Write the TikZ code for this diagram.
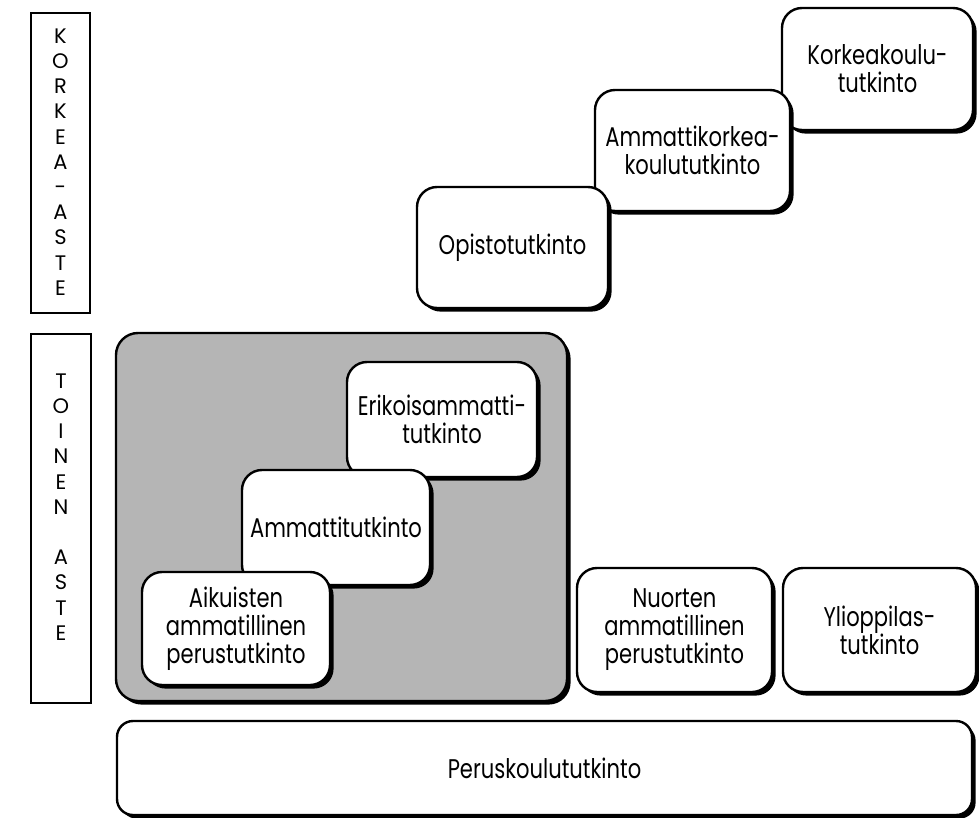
\documentclass[tikz,border=0pt]{standalone}
\usepackage{fontspec}
\setmainfont{Poppins}[FakeStretch=0.78]
\newfontfamily\kirjainfont{Poppins}
\usepackage{tikz}
\usetikzlibrary{shapes, shadows, positioning}
\tikzstyle{taso} = [draw, line width=1pt, rectangle, inner sep=0pt]
\tikzstyle{tasoteksti} = [align=center, font=\kirjainfont\fontsize{10.5}{12.6}\selectfont]
\tikzstyle{tutkinto} = [draw, line width=1.2pt, fill=white, rectangle, rounded corners=10pt, inner sep=0pt, align=center,
  font=\fontsize{13.5}{14}\selectfont, drop shadow={shadow xshift=1.8pt, shadow yshift=-1.8pt, fill=black, opacity=1}]
\tikzstyle{ryhma} = [tutkinto, fill=black!29, rounded corners=11pt]

\begin{document}
\begin{tikzpicture}[x=0.5pt, y=-0.5pt]
	\useasboundingbox (0,0) rectangle (979,818);
	% tasot
	\node [taso, minimum width=29.5pt, minimum height=150pt] (korkea) at (60.5,163) {};
	\node [tasoteksti] (korkeateksti) at (60.5,162) {K\\O\\R\\K\\E\\A\\-\\A\\S\\T\\E};
	\node [taso, minimum width=30pt, minimum height=184.5pt] (toinen) at (61,518.5) {};
	\node [tasoteksti] (toinenteksti) at (61,507) {T\\O\\I\\N\\E\\N\\\mbox{}\\A\\S\\T\\E};

	% aikuiskoulutus
	\node [ryhma, minimum width=225.5pt, minimum height=184pt] (aikuiset) at (341.5,517) {};
	\node [tutkinto, minimum width=95pt, minimum height=57.5pt] (erikois) at (442,419.5) {Erikoisammatti-\\tutkinto};
	\node [tutkinto, minimum width=94pt, minimum height=57.5pt] (ammatti) at (336,527.5) {Ammattitutkinto};
	\node [tutkinto, minimum width=94pt, minimum height=56.5pt] (aikuisperus) at (236,628.5) {Aikuisten\\ammatillinen\\perustutkinto};

	% nuoret
	\node [tutkinto, minimum width=97.5pt, minimum height=62pt] (nuoret) at (674.5,630) {Nuorten\\ammatillinen\\perustutkinto};
	\node [tutkinto, minimum width=96.5pt, minimum height=62pt] (yo) at (879.5,630) {Ylioppilas-\\tutkinto};
	\node [tutkinto, rounded corners=8pt, minimum width=427.5pt, minimum height=47pt] (perus) at (544.5,768) {Peruskoulututkinto};

	% korkea-aste
	\node [tutkinto, minimum width=95.5pt, minimum height=61pt] (korkeakoulu) at (877.5,69) {Korkeakoulu-\\tutkinto};
	\node [tutkinto, minimum width=97.5pt, minimum height=60.5pt] (amk) at (692.5,150.5) {Ammattikorkea-\\koulututkinto};
	\node [tutkinto, minimum width=95.5pt, minimum height=60.5pt] (opisto) at (512.5,247.5) {Opistotutkinto};
\end{tikzpicture}
\end{document}
